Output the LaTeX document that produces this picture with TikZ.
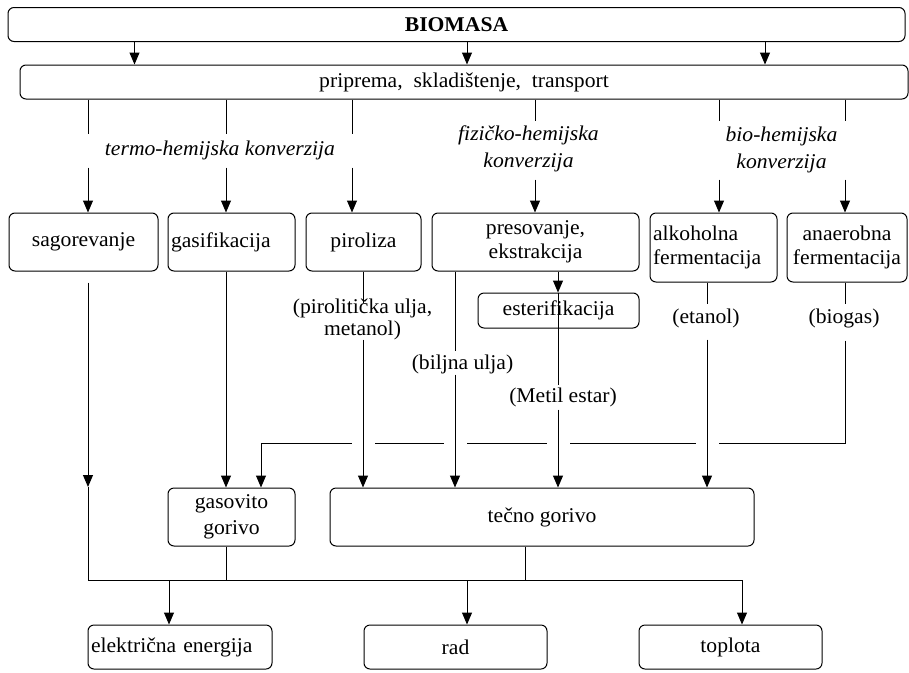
\documentclass[tikz,border=0pt]{standalone}
\usepackage{fontspec}
\setmainfont{Liberation Serif}[FakeStretch=1.03]
\usetikzlibrary{arrows.meta,calc}
\begin{document}
\begin{tikzpicture}[x=1pt,y=-1pt,line width=1pt,
  box/.style={draw, rounded corners=6pt, inner sep=0pt, align=center},
  lbox/.style={draw, rounded corners=6pt, inner ysep=0pt, inner xsep=3pt, align=left},
  lbl/.style={inner sep=0pt, align=center},
  arr/.style={-{Triangle[length=12pt,width=10pt]}},
  font=\fontsize{21}{24}\selectfont]
\useasboundingbox (0,0) rectangle (909,672);
% x positions
\path (134.5,0) coordinate (xa) (467,0) coordinate (xb) (765,0) coordinate (xc)
      (88,0) coordinate (x1) (226,0) coordinate (x2) (352,0) coordinate (x3)
      (535,0) coordinate (x4) (719,0) coordinate (x5) (845,0) coordinate (x6)
      (363,0) coordinate (x7) (455,0) coordinate (x8) (558,0) coordinate (x9)
      (707,0) coordinate (x10) (261,0) coordinate (x11) (169,0) coordinate (x12)
      (467,0) coordinate (x13) (742,0) coordinate (x14) (525,0) coordinate (x15);
% boxes
\node[box, minimum width=897pt, minimum height=34pt, font=\fontsize{21}{24}\selectfont\bfseries] (bio) at (456.5,24.5) {BIOMASA};
\node[box, minimum width=888pt, minimum height=34pt] (prip) at (464,82) {priprema,\ \ skladištenje,\ \ transport};
\node[box, minimum width=149pt, minimum height=58pt] (sag) at (83.5,242) {sagorevanje};
\node[lbox, text width=121pt, minimum height=58pt] (gas) at (231.5,242) {gasifikacija};
\node[box, minimum width=115pt, minimum height=58pt] (pir) at (363.5,242) {piroliza};
\node[box, minimum width=207pt, minimum height=58pt] (pres) at (535.5,242) {presovanje,\\ekstrakcija};
\node[lbox, text width=121pt, minimum height=69pt] (alk) at (713.5,247.5) {alkoholna\\fermentacija};
\node[box, minimum width=120pt, minimum height=69pt] (ana) at (847,247.5) {anaerobna\\fermentacija};
\node[box, minimum width=161pt, minimum height=35pt] (est) at (558.5,310.5) {esterifikacija};
\node[box, minimum width=127pt, minimum height=58pt, font=\fontsize{21}{26}\selectfont] (gasg) at (231.5,517) {gasovito\\gorivo};
\node[box, minimum width=424pt, minimum height=58pt] (tec) at (542,517) {tečno gorivo};
\node[lbox, text width=178pt, minimum height=44pt] (ele) at (180,647) {električna energija};
\node[box, minimum width=183pt, minimum height=44pt] (rad) at (455.5,647) {rad};
\node[box, minimum width=183pt, minimum height=44pt] (top) at (730.5,647) {toplota};
% labels
\node[lbl, font=\fontsize{21}{27}\selectfont\itshape] (termo) at (220,150) {termo-hemijska konverzija};
\node[lbl, font=\fontsize{21}{27}\selectfont\itshape] (fiz) at (528.5,149) {fizičko-hemijska\\konverzija};
\node[lbl, font=\fontsize{21}{27}\selectfont\itshape] (bioh) at (781.5,150) {bio-hemijska\\konverzija};
\node[lbl, font=\fontsize{21}{22}\selectfont] (pirl) at (362.5,319) {(pirolitička ulja,\\metanol)};
\node[lbl] (bilj) at (462.5,364) {(biljna ulja)};
\node[lbl] (met) at (563,397) {(Metil estar)};
\node[lbl] (etan) at (706,318) {(etanol)};
\node[lbl] (biog) at (844,318) {(biogas)};
% BIOMASA -> priprema
\foreach \c in {xa,xb,xc} \draw[arr] (bio.south -| \c) -- (prip.north -| \c);
% termo-hemijska
\draw (prip.south -| x1) -- ++(0,34);
\draw (prip.south -| x2) -- ++(0,34);
\draw (prip.south -| x3) -- ++(0,34);
\draw[arr] ($(sag.north -| x1)+(0,-45)$) -- (sag.north -| x1);
\draw[arr] ($(gas.north -| x2)+(0,-45)$) -- (gas.north -| x2);
\draw[arr] ($(pir.north -| x3)+(0,-45)$) -- (pir.north -| x3);
% fizicko / bio
\draw (prip.south -| x4) -- ++(0,21);
\draw (prip.south -| x5) -- ++(0,21);
\draw (prip.south -| x6) -- ++(0,21);
\draw[arr] ($(pres.north -| x4)+(0,-33)$) -- (pres.north -| x4);
\draw[arr] ($(alk.north -| x5)+(0,-33)$) -- (alk.north -| x5);
\draw[arr] ($(ana.north -| x6)+(0,-33)$) -- (ana.north -| x6);
% horizontal collector to gasovito gorivo (with gaps at crossings)
\coordinate (hb) at (845,443);
\coordinate (ha) at (261,443);
\draw (ana.south -| x6) -- ++(0,21);
\draw ($(ana.south -| x6)+(0,58)$) -- (hb) -- (718.5,443)
      (695.5,443) -- (569.5,443) (546.5,443) -- (466.5,443) (443.5,443) -- (374.5,443);
\draw[arr] (351.5,443) -- (ha) -- (gasg.north -| x11);
% piroliza
\draw (pir.south -| x7) -- ++(0,31);
\draw[arr] ($(tec.north -| x7)+(0,-148)$) -- (tec.north -| x7);
% biljna ulja
\draw (pres.south -| x8) -- ++(0,79);
\draw[arr] ($(tec.north -| x8)+(0,-113)$) -- (tec.north -| x8);
% esterifikacija
\draw[arr] (pres.south -| x9) -- (est.north -| x9);
\draw (est.north -| x9) -- ++(0,92);
\draw[arr] ($(tec.north -| x9)+(0,-78)$) -- (tec.north -| x9);
% etanol
\draw (alk.south -| x10) -- ++(0,21);
\draw[arr] ($(tec.north -| x10)+(0,-148)$) -- (tec.north -| x10);
% gasifikacija
\draw[arr] (gas.south -| x2) -- (gasg.north -| x2);
% sagorevanje
\coordinate (sagtip) at (88,487);
\coordinate (busL) at (88,580);
\coordinate (busR) at (742,580);
\draw[arr] ($(sag.south -| x1)+(0,11)$) -- (sagtip);
\draw (sagtip) -- (busL);
% bus
\draw[arr] (busL) -- (busR) -- (top.north -| x14);
\draw (gasg.south -| x2) -- (x2 |- busL);
\draw (tec.south -| x15) -- (x15 |- busL);
\draw[arr] (x12 |- busL) -- (ele.north -| x12);
\draw[arr] (x13 |- busL) -- (rad.north -| x13);
\end{tikzpicture}
\end{document}
